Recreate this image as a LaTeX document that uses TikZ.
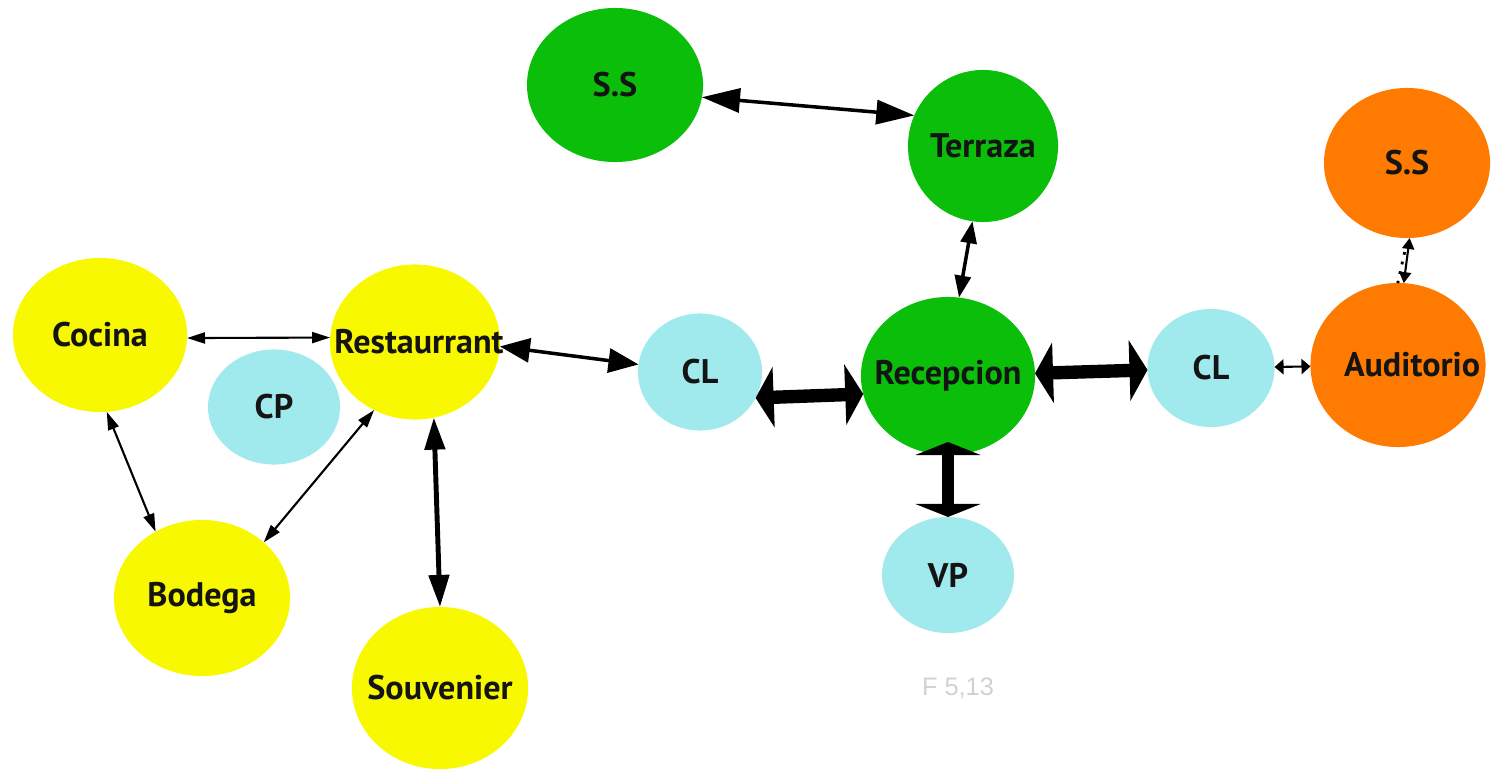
\documentclass[tikz,border=0pt]{standalone}
\usepackage{fontspec}
\newfontfamily\roomfont{PT Sans}
\newfontfamily\notefont{Liberation Sans}
\usetikzlibrary{arrows.meta, shapes.geometric}

\definecolor{roomyellow}{RGB}{248,248,0}
\definecolor{roomgreen}{RGB}{10,190,10}
\definecolor{roomblue}{RGB}{160,234,238}
\definecolor{roomorange}{RGB}{255,122,0}

\begin{document}
\begin{tikzpicture}[x=0.01cm, y=-0.01cm,
		room/.style 2 args={ellipse, inner sep=0pt, outer sep=0pt, minimum width=#1, minimum height=#2},
		every label/.style={font=\roomfont\bfseries\fontsize{9.7}{11}\selectfont, text=black!92, inner sep=0pt},
		thinlink/.style={line width=0.6pt, >={Triangle[length=1.8mm,width=1.1mm]}, <->},
		midlink/.style={line width=1pt, >={Triangle[length=3mm,width=2.4mm]}, <->},
		biglink/.style={line width=3.8pt, >={Triangle[length=1.8mm,width=6mm]}, <->}]

			\useasboundingbox (0,0) rectangle (1501,773);

			% Rooms of the restaurant wing
			\node[room={1.74cm}{1.54cm}, fill=roomyellow, label=center:Cocina] (coc) at (100,335) {};
			\node[room={1.70cm}{1.55cm}, fill=roomyellow, label={[xshift=0.04cm]center:Restaurrant}] (rest) at (415,342) {};
			\node[room={1.32cm}{1.15cm}, fill=roomblue, label=center:CP] (cp) at (274,407) {};
			\node[room={1.76cm}{1.56cm}, fill=roomyellow, label=center:Bodega] (bod) at (202,598) {};
			\node[room={1.76cm}{1.62cm}, fill=roomyellow, label=center:Souvenier] (souv) at (440,688) {};

			% Reception and the rooms round it
			\node[room={1.76cm}{1.54cm}, fill=roomgreen, label=center:S.S] (ssg) at (615,85) {};
			\node[room={1.50cm}{1.52cm}, fill=roomgreen, label=center:Terraza] (ter) at (983,146) {};
			\node[room={1.24cm}{1.17cm}, fill=roomblue, label=center:CL] (cll) at (700,372) {};
			\node[room={1.74cm}{1.58cm}, fill=roomgreen, label=center:Recepcion] (rec) at (948,376) {};
			\node[room={1.32cm}{1.16cm}, fill=roomblue, label=center:VP] (vp) at (948,575) {};

			% Auditorium wing
			\node[room={1.27cm}{1.18cm}, fill=roomblue, label=center:CL] (clr) at (1211,368) {};
			\node[room={1.75cm}{1.64cm}, fill=roomorange, label={[xshift=0.14cm]center:Auditorio}] (aud) at (1398,365) {};
			\node[room={1.66cm}{1.50cm}, fill=roomorange, label=center:S.S] (ssa) at (1407,163) {};

			\node[text=black!18, font=\notefont\fontsize{7.2}{8}\selectfont] (fig) at (958,688) {F 5,13};

			% Links between the rooms
			\draw[thinlink] (coc.-2) -- (rest.177);
			\draw[thinlink] (coc.-85) -- (bod.125);
			\draw[thinlink] (rest.-121) -- (bod.42);
			\draw[midlink, line width=1.4pt, >={Triangle[length=3.2mm,width=2mm]}] (rest.-76) -- (souv.90);
			\draw[midlink] (rest.-3) -- (cll.173);
			\draw[midlink, >={Triangle[length=3.8mm,width=2.4mm]}] (ssg.-8) -- (ter.156);
			\draw[midlink, >={Triangle[length=2.2mm,width=1.6mm]}] (ter.-98) -- (rec.82);
			\draw[biglink] (cll.-25) -- (rec.192);
			\draw[biglink] (rec) -- (clr);
			\draw[biglink, line width=3.4pt, >={Triangle[length=1.3mm,width=6.5mm]}, shorten <=-0.13cm] (rec) -- (vp);
			\draw[thinlink, >={Triangle[length=0.9mm,width=1.5mm]}] (clr) -- (aud);
			\draw[thinlink, >={Triangle[length=1.1mm,width=1.2mm]}] (ssa.-88) -- (aud.86);
			\draw[dotted, line width=0.8pt] ([xshift=-0.05cm]ssa.-88) ++(0,14) -- ([xshift=-0.06cm]aud.86);

		\end{tikzpicture}
\end{document}
